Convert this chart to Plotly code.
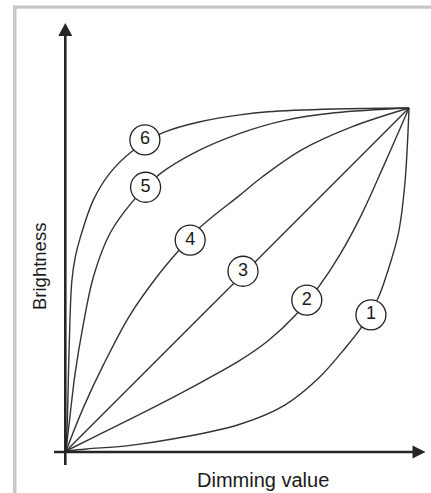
import plotly.graph_objects as go

# ---------------- data (normalised dimming value -> brightness) ----------------
curve1_x = [0, 0.060, 0.177, 0.323, 0.507, 0.638, 0.736, 0.813, 0.862, 0.910, 0.935, 0.969, 0.988, 1]
curve1_y = [0, 0.006, 0.015, 0.037, 0.078, 0.134, 0.212, 0.299, 0.362, 0.446, 0.515, 0.634, 0.780, 1]

curve2_x = [0, 0.080, 0.225, 0.371, 0.507, 0.590, 0.668, 0.736, 0.800, 0.862, 0.930, 1]
curve2_y = [0, 0.040, 0.112, 0.188, 0.264, 0.322, 0.395, 0.478, 0.575, 0.690, 0.840, 1]

curve3_x = [0, 0.52, 1]
curve3_y = [0, 0.52, 1]

curve4_x = [0, 0.050, 0.109, 0.187, 0.269, 0.323, 0.391, 0.507, 0.571, 0.687, 0.833, 1]
curve4_y = [0, 0.125, 0.251, 0.397, 0.513, 0.578, 0.652, 0.746, 0.798, 0.878, 0.945, 1]

curve5_x = [0, 0.012, 0.026, 0.050, 0.080, 0.128, 0.192, 0.274, 0.371, 0.507, 0.638, 0.784, 1]
curve5_y = [0, 0.105, 0.222, 0.367, 0.508, 0.634, 0.725, 0.808, 0.868, 0.926, 0.964, 0.986, 1]

curve6_x = [0, 0.004, 0.009, 0.017, 0.027, 0.041, 0.080, 0.128, 0.192, 0.283, 0.391, 0.507, 0.589, 0.784, 1]
curve6_y = [0, 0.090, 0.294, 0.495, 0.565, 0.620, 0.732, 0.810, 0.873, 0.928, 0.960, 0.980, 0.989, 0.997, 1]

label_text = ["1", "2", "3", "4", "5", "6"]
label_x = [0.889, 0.702, 0.516, 0.362, 0.232, 0.230]
label_y = [0.397, 0.440, 0.524, 0.615, 0.769, 0.907]

x_title = "Dimming value"
y_title = "Brightness"

# ---------------- layout geometry ----------------
W, H = 431, 493
OX, OY, S = 66.0, 451.0, 343.0   # pixel of data origin and pixels per unit

def px(xp):
    return xp / W

def py(yp):
    return 1 - yp / H

FONT = "Liberation Sans, Arial, sans-serif"
INK = "#262626"
LINE = "#333333"
GRAY = "#c8c8c8"

fig = go.Figure()

curves = [(curve1_x, curve1_y), (curve2_x, curve2_y), (curve3_x, curve3_y),
          (curve4_x, curve4_y), (curve5_x, curve5_y), (curve6_x, curve6_y)]
for cx, cy in curves:
    fig.add_trace(go.Scatter(x=cx, y=cy, mode="lines",
                             line=dict(color=LINE, width=1.4, shape="spline", smoothing=1.0),
                             hoverinfo="skip", showlegend=False))

fig.add_trace(go.Scatter(
    x=label_x, y=label_y, mode="markers+text", text=label_text,
    textposition="middle center",
    textfont=dict(family=FONT, size=18, color="#1a1a1a"),
    marker=dict(symbol="circle", size=30, color="white",
                line=dict(color="#222222", width=1.3)),
    hoverinfo="skip", showlegend=False))

shapes = []
# grey frame (top and left edges)
shapes.append(dict(type="rect", xref="paper", yref="paper",
                   x0=px(13), x1=px(16.5), y0=py(H), y1=py(5.5),
                   fillcolor=GRAY, line=dict(width=0), layer="below"))
shapes.append(dict(type="rect", xref="paper", yref="paper",
                   x0=px(13), x1=px(W), y0=py(8.8), y1=py(5.5),
                   fillcolor=GRAY, line=dict(width=0), layer="below"))
# y axis with arrow
shapes.append(dict(type="line", xref="paper", yref="paper",
                   x0=px(65.3), x1=px(65.3), y0=py(465), y1=py(34),
                   line=dict(color=INK, width=2.6)))
shapes.append(dict(type="path", xref="paper", yref="paper",
                   path=f"M {px(65.3)} {py(23)} L {px(58.3)} {py(36)} L {px(72.3)} {py(36)} Z",
                   fillcolor=INK, line=dict(width=0)))
# x axis with arrow
shapes.append(dict(type="line", xref="paper", yref="paper",
                   x0=px(54), x1=px(414), y0=py(452), y1=py(452),
                   line=dict(color=INK, width=2.6)))
shapes.append(dict(type="path", xref="paper", yref="paper",
                   path=f"M {px(425.5)} {py(452)} L {px(412.5)} {py(445.5)} L {px(412.5)} {py(458.5)} Z",
                   fillcolor=INK, line=dict(width=0)))

annotations = [
    dict(text=x_title, xref="paper", yref="paper", x=px(263), y=py(479.5),
         showarrow=False, xanchor="center", yanchor="middle",
         font=dict(family=FONT, size=20, color="#1a1a1a")),
    dict(text=y_title, xref="paper", yref="paper", x=px(39.5), y=py(266.5),
         showarrow=False, xanchor="center", yanchor="middle", textangle=-90,
         font=dict(family=FONT, size=18.5, color="#1a1a1a")),
]

fig.update_layout(
    width=W, height=H,
    margin=dict(l=0, r=0, t=0, b=0),
    paper_bgcolor="white", plot_bgcolor="white",
    shapes=shapes, annotations=annotations,
    xaxis=dict(range=[-OX / S, (W - OX) / S], visible=False, fixedrange=True),
    yaxis=dict(range=[-(H - OY) / S, OY / S], visible=False, fixedrange=True),
    showlegend=False,
)

fig.write_html("out.html", config={"displayModeBar": False},
               post_script="document.body.style.margin='0px';")
